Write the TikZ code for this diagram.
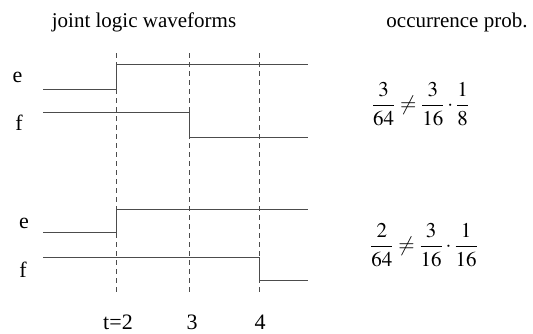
\documentclass[tikz,border=0pt]{standalone}
\usepackage{mathptmx}
\usepackage{fontspec}
\setmainfont{Liberation Serif}
\usepackage{amsmath}
\usetikzlibrary{positioning}

\begin{document}
\begin{tikzpicture}[
  x=1pt, y=-1pt,
  font=\fontsize{22}{26}\selectfont,
  wave/.style={draw=black!70, line width=1pt},
  tickline/.style={draw=black!70, line width=0.8pt, dash pattern=on 5pt off 4pt},
  sig/.style={inner sep=0pt, anchor=base},
  prob/.style={inner sep=0pt, font=\fontsize{21}{25}\selectfont}
]
\useasboundingbox (0,0) rectangle (533,333);

% headings
\node[sig, font=\fontsize{21}{25}\selectfont] (head1) at (144,27) {joint logic waveforms};
\node[sig, font=\fontsize{21}{25}\selectfont] (head2) at (457,27) {occurrence prob.};

% time markers
\foreach \tx/\tname in {116/ta, 189/tb, 259/tc} {
  \coordinate (\tname top) at (\tx,53);
  \coordinate (\tname bot) at (\tx,295);
  \draw[tickline] (\tname top) -- (\tname bot);
}
\node[sig] (talab) at (118,329) {t=2};
\node[sig] (tblab) at (192,329) {3};
\node[sig] (tclab) at (260,329) {4};

% first case
\node[sig] (e1) at (17.5,82) {e};
\node[sig] (f1) at (19,130) {f};
\draw[wave] (43,89) -- (116,89) -- (116,64) -- (308,64);
\draw[wave] (43,112) -- (189,112) -- (189,137) -- (308,137);
\node[prob] (p1) at (420.5,104) {$\dfrac{3}{64}\neq\dfrac{3}{16}\cdot\dfrac{1}{8}$};

% second case
\node[sig] (e2) at (24,228) {e};
\node[sig] (f2) at (23,277) {f};
\draw[wave] (43,232) -- (116,232) -- (116,209) -- (308,209);
\draw[wave] (43,257) -- (259,257) -- (259,280) -- (308,280);
\node[prob] (p2) at (424,245) {$\dfrac{2}{64}\neq\dfrac{3}{16}\cdot\dfrac{1}{16}$};
\end{tikzpicture}
\end{document}
